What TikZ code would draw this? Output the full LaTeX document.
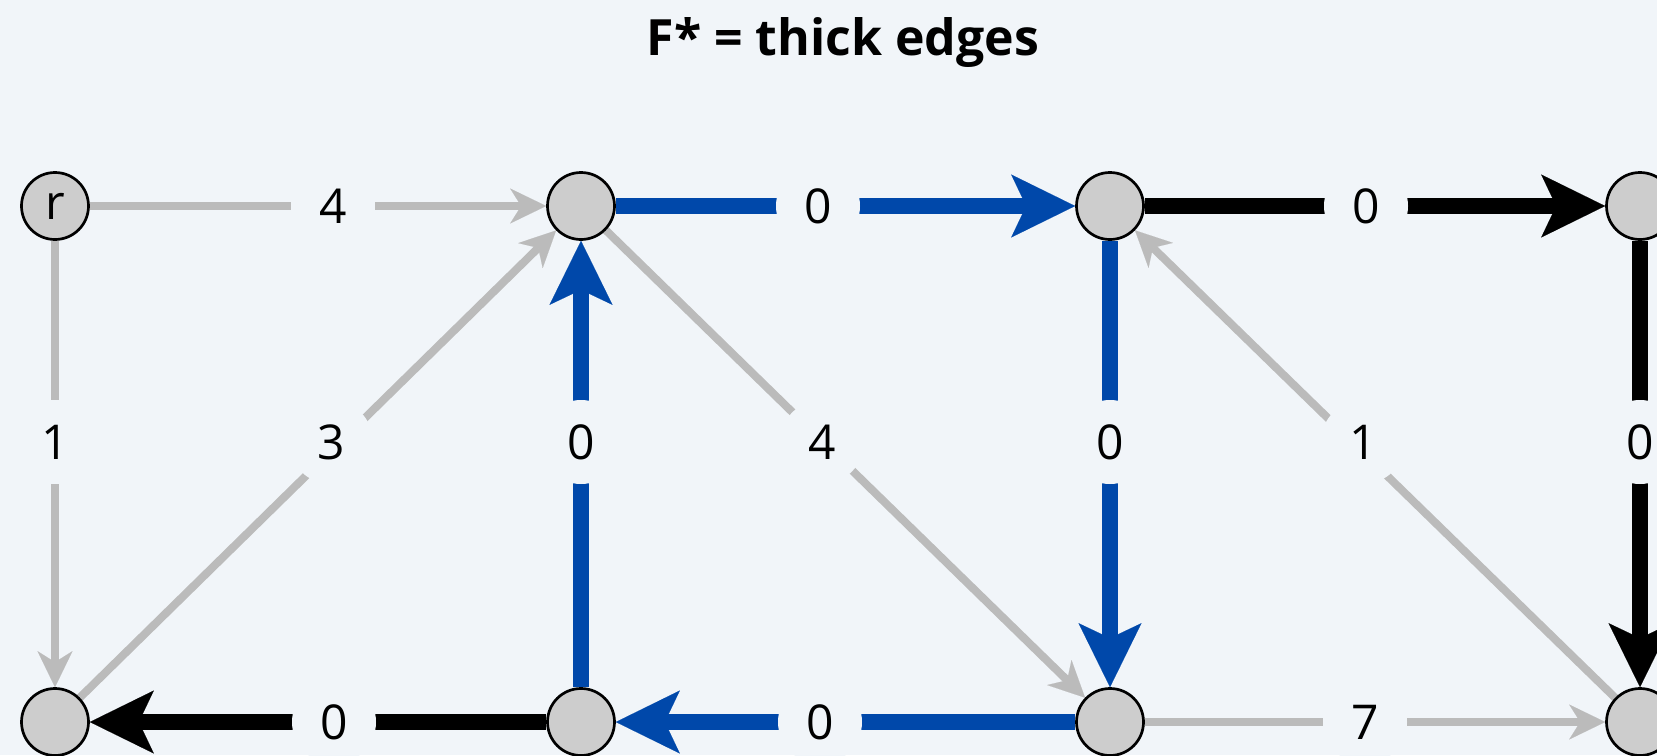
\documentclass[tikz,border=0pt]{standalone}
\usepackage{fontspec}
\setmainfont{Open Sans}
\usetikzlibrary{arrows.meta}
\definecolor{bgc}{HTML}{F1F5F9}
\definecolor{edgegray}{HTML}{BBBBBB}
\definecolor{fblue}{RGB}{0,72,170}
\definecolor{nodefill}{HTML}{CDCDCD}
\pgfdeclarelayer{bglayer}
\pgfdeclarelayer{edgelayer}
\pgfsetlayers{bglayer,edgelayer,main}
\tikzset{
  vtx/.style={circle,draw=black,line width=2.7pt,fill=nodefill,minimum size=67pt,inner sep=0pt,font=\fontsize{48}{52}\selectfont},
  wlabel/.style={circle,fill=bgc,minimum size=84pt,inner sep=0pt,font=\fontsize{48}{52}\selectfont},
  grayedge/.style={draw=edgegray,line width=8pt,-{Stealth[length=36pt,width=35pt,inset=11pt,line width=0.1pt]}},
  blueedge/.style={draw=fblue,line width=16pt,-{Stealth[length=64pt,width=63pt,inset=15pt,line width=0.1pt]}},
  blackedge/.style={draw=black,line width=16pt,-{Stealth[length=64pt,width=63pt,inset=15pt,line width=0.1pt]}},
}
\begin{document}
\begin{tikzpicture}[x=1pt,y=-1pt]
\begin{pgfonlayer}{bglayer}
\fill[bgc] (0,0) rectangle (1657,755);
\end{pgfonlayer}
\useasboundingbox (0,0) rectangle (1657,755);
\node[font=\bfseries\fontsize{50}{54}\selectfont] (title) at (843,43) {F* = thick edges};
% vertices
\node[vtx] (r) at (55,206) {r};
\node[vtx] (a) at (581,206) {};
\node[vtx] (b) at (1110,206) {};
\node[vtx] (c) at (1640,206) {};
\node[vtx] (d) at (55,722) {};
\node[vtx] (e) at (581,722) {};
\node[vtx] (f) at (1110,722) {};
\node[vtx] (g) at (1640,722) {};
% edges
\begin{pgfonlayer}{edgelayer}
\draw[grayedge] (r) -- (a);
\draw[blueedge] (a) -- (b);
\draw[blackedge] (b) -- (c);
\draw[grayedge] (r) -- (d);
\draw[grayedge] (d) -- (a);
\draw[blueedge] (e) -- (a);
\draw[grayedge] (a) -- (f);
\draw[blueedge] (b) -- (f);
\draw[grayedge] (g) -- (b);
\draw[blackedge] (c) -- (g);
\draw[blackedge] (e) -- (d);
\draw[blueedge] (f) -- (e);
\draw[grayedge] (f) -- (g);
\end{pgfonlayer}
% labels
\node[wlabel] (l1) at (333,206) {4};
\node[wlabel] (l2) at (818,206) {0};
\node[wlabel] (l3) at (1366,206) {0};
\node[wlabel] (l4) at (55,442) {1};
\node[wlabel] (l5) at (331,442) {3};
\node[wlabel] (l6) at (581,442) {0};
\node[wlabel] (l7) at (822,442) {4};
\node[wlabel] (l8) at (1110,442) {0};
\node[wlabel] (l9) at (1363,442) {1};
\node[wlabel] (l10) at (1640,442) {0};
\node[wlabel] (l11) at (334,722) {0};
\node[wlabel] (l12) at (820,722) {0};
\node[wlabel] (l13) at (1365,722) {7};
\end{tikzpicture}
\end{document}
